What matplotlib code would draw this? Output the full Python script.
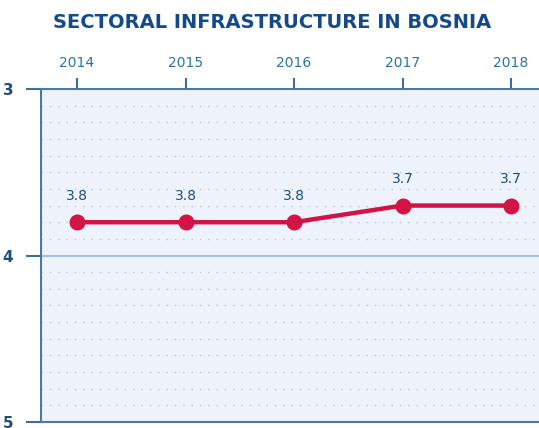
import matplotlib
matplotlib.use("Agg")
import matplotlib.pyplot as plt

years = [2014, 2015, 2016, 2017, 2018]
values = [3.8, 3.8, 3.8, 3.7, 3.7]
labels = ["3.8", "3.8", "3.8", "3.7", "3.7"]
yticks = [3, 4, 5]
title = "SECTORAL INFRASTRUCTURE IN BOSNIA"

fig = plt.figure(figsize=(5.39, 4.28), dpi=100)
fig.patch.set_facecolor("white")
ax = fig.add_axes([41/539, 1-422/428, 1-41/539, (422-89)/428])
ax.set_facecolor("#eef3fb")

ax.set_xlim(2014 - 36/108.5, 2014 + (539-77)/108.5)
ax.set_ylim(5, 3)

# dotted grid
for k in range(1, 20):
    yv = 3 + k*0.1
    if abs(yv - 4) < 1e-6:
        continue
    ax.axhline(yv, color="#b9c6d6", lw=1.0, ls=(0, (1, 5)), zorder=1)
ax.axhline(4, color="#9fc3e0", lw=1.5, zorder=1)

ax.plot(years, values, color="#d31245", lw=3.2, marker="o", ms=10.5, zorder=3, solid_capstyle="round")
for x, v, t in zip(years, values, labels):
    ax.annotate(t, (x, v), xytext=(0, 14), textcoords="offset points", ha="center", va="bottom",
                fontsize=10, color="#1f4e79")

ax.xaxis.tick_top()
ax.set_xticks(years)
ax.set_xticklabels([str(y) for y in years])
ax.set_yticks(yticks)
ax.set_yticklabels([str(y) for y in yticks])
ax.tick_params(axis="x", direction="out", length=8, width=1.5, color="#3f6f98",
               labelcolor="#2b72a8", labelsize=10, pad=6)
ax.tick_params(axis="y", direction="out", length=11, width=1.5, color="#3f6f98",
               labelcolor="#1f4e79", labelsize=11, pad=9)
for lab in ax.get_yticklabels():
    lab.set_fontweight("bold")

for s in ["left", "top", "bottom"]:
    ax.spines[s].set_color("#4a7aa3")
    ax.spines[s].set_linewidth(1.5)
ax.spines["right"].set_visible(False)

fig.text(0.505, 1-22/428, title, ha="center", va="center", fontsize=14,
         fontweight="heavy", color="#14498a")

fig.savefig("out.png", dpi=100)
